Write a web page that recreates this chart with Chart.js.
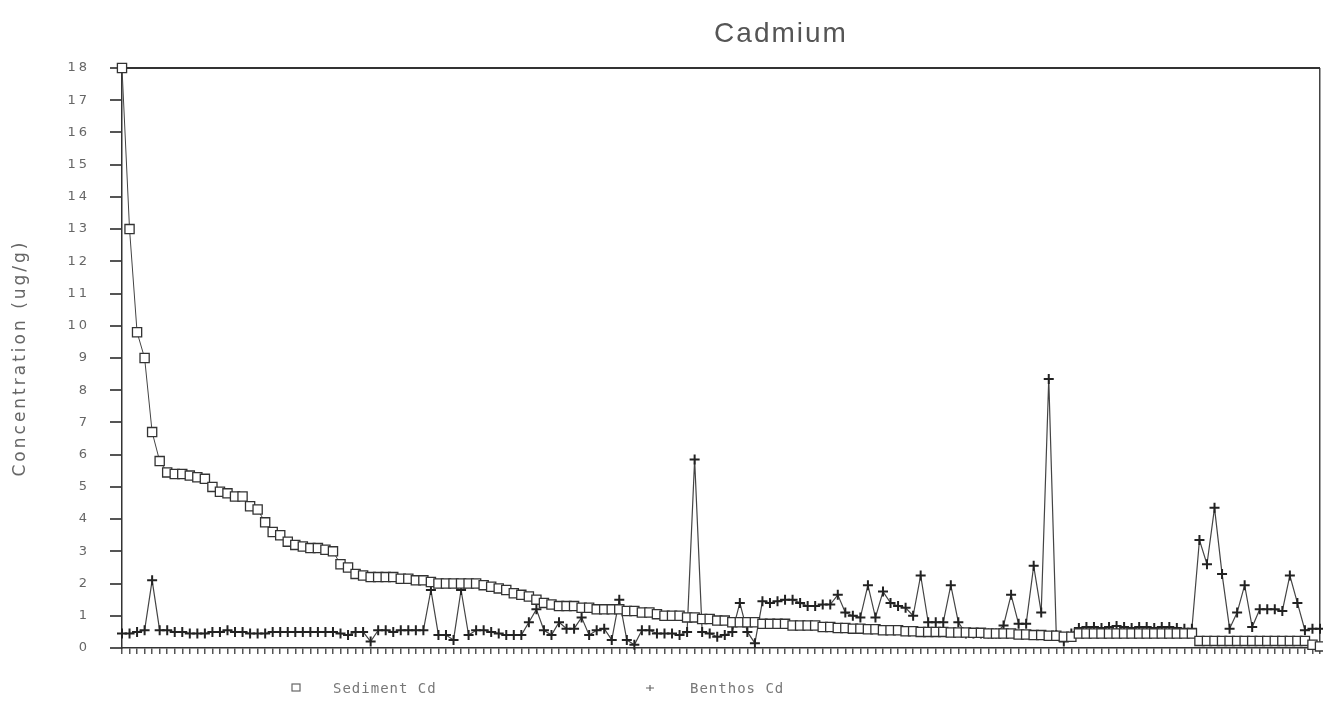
<!DOCTYPE html>
<html>
<head>
<meta charset="utf-8">
<script src="https://cdn.jsdelivr.net/npm/chart.js@4"></script>
<style>
  html, body { margin: 0; padding: 0; background: #fff; overflow: hidden; }
  #cadmiumChart { display: block; }
</style>
</head>
<body>
<canvas id="cadmiumChart" width="1323" height="706"></canvas>
<script>
// ==================== DATA ====================
const yTicks = [0, 18, 1]; // min, max, step

// Sediment Cd, sorted high to low (ug/g)
const sedimentCd = [
  18, 13, 9.8, 9.0, 6.7, 5.8, 5.45, 5.4, 5.4, 5.35,
  5.3, 5.25, 5.0, 4.85, 4.8, 4.7, 4.7, 4.4, 4.3, 3.9,
  3.6, 3.5, 3.3, 3.2, 3.15, 3.1, 3.1, 3.05, 3.0, 2.6,
  2.5, 2.3, 2.25, 2.2, 2.2, 2.2, 2.2, 2.15, 2.15, 2.1,
  2.1, 2.05, 2.0, 2.0, 2.0, 2.0, 2.0, 2.0, 1.95, 1.9,
  1.85, 1.8, 1.7, 1.65, 1.6, 1.5, 1.4, 1.35, 1.3, 1.3,
  1.3, 1.25, 1.25, 1.2, 1.2, 1.2, 1.2, 1.15, 1.15, 1.1,
  1.1, 1.05, 1.0, 1.0, 1.0, 0.95, 0.95, 0.9, 0.9, 0.85,
  0.85, 0.8, 0.8, 0.8, 0.8, 0.75, 0.75, 0.75, 0.75, 0.7,
  0.7, 0.7, 0.7, 0.65, 0.65, 0.62, 0.62, 0.6, 0.6, 0.58,
  0.58, 0.55, 0.55, 0.55, 0.52, 0.52, 0.5, 0.5, 0.5, 0.5,
  0.48, 0.48, 0.48, 0.47, 0.47, 0.45, 0.45, 0.45, 0.45, 0.42,
  0.42, 0.4, 0.4, 0.38, 0.38, 0.35, 0.35, 0.45, 0.45, 0.45,
  0.45, 0.45, 0.45, 0.45, 0.45, 0.45, 0.45, 0.45, 0.45, 0.45,
  0.45, 0.45, 0.45, 0.22, 0.22, 0.22, 0.22, 0.22, 0.22, 0.22,
  0.22, 0.22, 0.22, 0.22, 0.22, 0.22, 0.22, 0.22, 0.1, 0.05
];

// Benthos Cd at the same stations (ug/g)
const benthosCd = [
  0.45, 0.45, 0.5, 0.55, 2.1, 0.55, 0.55, 0.5, 0.5, 0.45,
  0.45, 0.45, 0.5, 0.5, 0.55, 0.5, 0.5, 0.45, 0.45, 0.45,
  0.5, 0.5, 0.5, 0.5, 0.5, 0.5, 0.5, 0.5, 0.5, 0.45,
  0.4, 0.5, 0.5, 0.2, 0.55, 0.55, 0.5, 0.55, 0.55, 0.55,
  0.55, 1.8, 0.4, 0.4, 0.25, 1.8, 0.4, 0.55, 0.55, 0.5,
  0.45, 0.4, 0.4, 0.4, 0.8, 1.2, 0.55, 0.4, 0.8, 0.6,
  0.6, 0.95, 0.4, 0.55, 0.6, 0.25, 1.5, 0.25, 0.1, 0.55,
  0.55, 0.45, 0.45, 0.45, 0.4, 0.5, 5.85, 0.5, 0.45, 0.35,
  0.4, 0.5, 1.4, 0.5, 0.15, 1.45, 1.4, 1.45, 1.5, 1.5,
  1.4, 1.3, 1.3, 1.35, 1.35, 1.65, 1.1, 1.0, 0.95, 1.95,
  0.95, 1.75, 1.4, 1.3, 1.25, 1.0, 2.25, 0.8, 0.8, 0.8,
  1.95, 0.8, 0.45, 0.45, 0.45, 0.45, 0.45, 0.7, 1.65, 0.75,
  0.75, 2.55, 1.1, 8.35, 0.4, 0.2, 0.45, 0.62, 0.65, 0.65,
  0.62, 0.65, 0.68, 0.65, 0.62, 0.65, 0.65, 0.62, 0.65, 0.65,
  0.62, 0.6, 0.6, 3.35, 2.6, 4.35, 2.3, 0.6, 1.1, 1.95,
  0.65, 1.2, 1.2, 1.2, 1.15, 2.25, 1.4, 0.55, 0.6, 0.6
];

const stations = sedimentCd.map((_, i) => String(i + 1));

const chartTitle = 'Cadmium';
const yAxisTitle = 'Concentration (ug/g)';
const seriesNames = ['Sediment Cd', 'Benthos Cd'];

// ==================== TITLE + LEGEND ====================
// old plotter output: wide letter spacing everywhere
const plotterText = {
  id: 'plotterText',
  beforeDraw(chart) {
    chart.ctx.letterSpacing = '3px';
  },
  afterDraw(chart) {
    const { ctx } = chart;
    ctx.save();
    ctx.fillStyle = '#555';
    ctx.textAlign = 'center';
    ctx.textBaseline = 'middle';
    ctx.letterSpacing = '2px';
    ctx.font = '28px "Liberation Sans", sans-serif';
    ctx.fillText(chartTitle, 781, 34);

    // legend
    ctx.font = '14px "DejaVu Sans Mono", monospace';
    ctx.letterSpacing = '1px';
    ctx.textAlign = 'left';
    ctx.fillStyle = '#777';
    ctx.strokeStyle = '#666';
    ctx.lineWidth = 1.2;
    ctx.strokeRect(292, 684, 8, 7);
    ctx.fillText(seriesNames[0], 333, 689);
    ctx.beginPath();
    ctx.moveTo(646, 688); ctx.lineTo(654, 688);
    ctx.moveTo(650, 685); ctx.lineTo(650, 691);
    ctx.stroke();
    ctx.fillText(seriesNames[1], 690, 689);
    ctx.restore();
  }
};

// ==================== CHART ====================
const lastIdx = stations.length - 1;

new Chart(document.getElementById('cadmiumChart'), {
  type: 'line',
  data: {
    labels: stations,
    datasets: [
      {
        label: seriesNames[0],
        data: sedimentCd,
        borderColor: '#444',
        borderWidth: 1,
        pointStyle: 'rect',
        pointRadius: 6.5,
        pointBorderWidth: 1.3,
        pointBorderColor: '#333',
        pointBackgroundColor: '#fff',
        tension: 0,
        clip: false
      },
      {
        label: seriesNames[1],
        data: benthosCd,
        borderColor: '#444',
        borderWidth: 1.2,
        pointStyle: 'cross',
        pointRadius: 5,
        pointBorderWidth: 2,
        pointBorderColor: '#222',
        tension: 0,
        clip: false
      }
    ]
  },
  options: {
    responsive: false,
    animation: false,
    devicePixelRatio: 1,
    layout: { autoPadding: false, padding: { top: 68, right: 3, bottom: 52, left: 0 } },
    plugins: {
      legend: { display: false },
      tooltip: { enabled: false },
      title: { display: false }
    },
    scales: {
      x: {
        type: 'category',
        offset: false,
        grid: {
          drawOnChartArea: true,
          color: (c) => (c.index === lastIdx ? '#444' : 'rgba(0,0,0,0)'),
          tickColor: '#555',
          tickLength: 6,
          lineWidth: 1.5
        },
        border: { color: '#333', width: 1.5 },
        ticks: { display: false, autoSkip: false }
      },
      y: {
        min: yTicks[0],
        max: yTicks[1],
        afterFit: (scale) => { scale.width = 122; },
        grid: {
          drawOnChartArea: true,
          color: (c) => (c.tick && c.tick.value === yTicks[1] ? '#333' : 'rgba(0,0,0,0)'),
          tickColor: '#555',
          tickLength: 12,
          lineWidth: 2
        },
        border: { color: '#333', width: 1.5 },
        ticks: {
          stepSize: yTicks[2],
          padding: 20,
          color: '#666',
          font: { family: '"DejaVu Sans", sans-serif', size: 13 }
        },
        title: {
          display: true,
          text: yAxisTitle,
          color: '#666',
          padding: { top: 10, bottom: 0 },
          font: { family: '"DejaVu Sans", sans-serif', size: 17 }
        }
      }
    }
  },
  plugins: [plotterText]
});
</script>
</body>
</html>
